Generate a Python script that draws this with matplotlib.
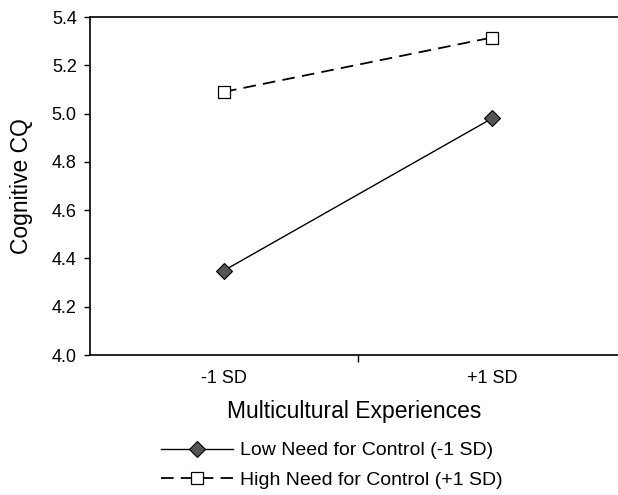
import matplotlib
matplotlib.use("Agg")
import matplotlib.pyplot as plt

categories = ["-1 SD", "+1 SD"]
low_need = [4.35, 4.98]
high_need = [5.09, 5.315]
series_labels = ["Low Need for Control (-1 SD)", "High Need for Control (+1 SD)"]

plt.rcParams['font.family'] = ['Liberation Sans', 'DejaVu Sans']

W, H = 618, 495
left, top, bottom = 90, 17, 355
fig = plt.figure(figsize=(W / 100, H / 100), dpi=100)
ax = fig.add_axes([left / W, 1 - bottom / H, 1 - left / W, (bottom - top) / H])

xpos = [0.5, 1.5]
ax.plot(xpos, low_need, color='black', lw=1.0, marker='D', markersize=8,
        markerfacecolor='#555555', markeredgecolor='black', markeredgewidth=0.8,
        label=series_labels[0])
ax.plot(xpos, high_need, color='black', lw=1.3, ls=(0, (7, 4)), marker='s', markersize=9,
        markerfacecolor='white', markeredgecolor='black', markeredgewidth=0.9,
        label=series_labels[1])

ax.set_xlim(0, 1.97)
ax.set_ylim(4.0, 5.4)
yt = [4.0, 4.2, 4.4, 4.6, 4.8, 5.0, 5.2, 5.4]
ax.set_yticks(yt)
ax.set_yticklabels([f"{v:.1f}" for v in yt])
ax.set_xticks(xpos)
ax.set_xticklabels(categories)
ax.set_xticks([1.0], minor=True)
ax.tick_params(axis='x', which='major', length=0, labelsize=13, pad=11)
ax.tick_params(axis='x', which='minor', length=5, direction='out', width=1)
ax.tick_params(axis='y', length=4.5, direction='out', labelsize=13, width=1, pad=5)

for s in ['left', 'bottom', 'top']:
    ax.spines[s].set_linewidth(1.2)
ax.spines['right'].set_visible(False)

ax.set_xlabel("Multicultural Experiences", fontsize=16.5, va='top')
ax.xaxis.set_label_coords(0.5, -0.133)
ax.set_ylabel("Cognitive CQ", fontsize=16.5)
ax.yaxis.set_label_coords(-0.108, 0.5)

fig.legend(loc='center', bbox_to_anchor=(0.537, 0.06), frameon=False, fontsize=14,
           handlelength=3.7, handletextpad=0.36, labelspacing=0.6, borderpad=0)

fig.savefig("out.png", dpi=100)
